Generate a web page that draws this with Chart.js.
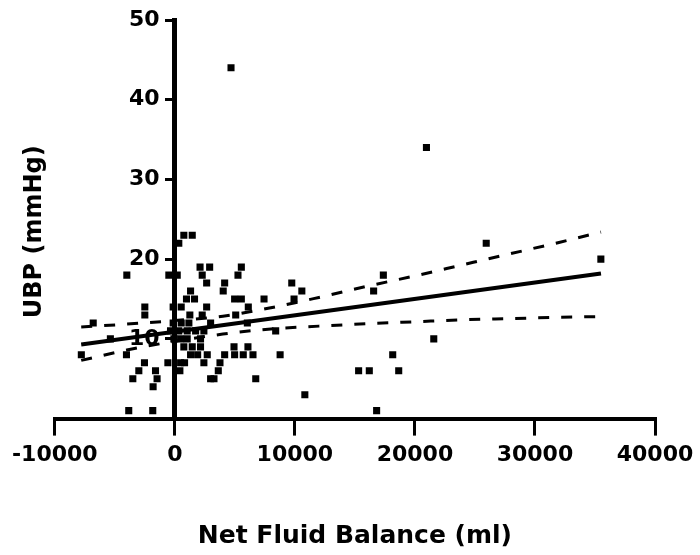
<!DOCTYPE html>
<html>
<head>
<meta charset="utf-8">
<script src="https://cdn.jsdelivr.net/npm/chart.js@4.4.1/dist/chart.umd.min.js"></script>
<style>
  html, body { margin: 0; padding: 0; background: #fff; }
  #wrap { width: 700px; height: 555px; }
</style>
</head>
<body>
<div id="wrap"><canvas id="canvas"></canvas></div>
<script>
// patients: net fluid balance (ml) vs UBP (mmHg)
const fluidX = [750, 1450, 330, -4000, -500, 200, 2100, 2900, 5540, 2280,
  5260, 2650, 4150, 4030, 1310, 970, 1640, 4980, 5540, 7430,
  -2500, -140, 530, 2650, 6120, -2500, 1250, 2280, 5070, -6800,
  -140, 530, 1170, 2980, 6040, -360, 330, 1030, 1730, 2420,
  8400, -5370, -80, 480, 1030, 2140, 750, 1450, 2140, 4930,
  6090, -7790, -4030, 1310, 1900, 2700, 4150, 4980, 5700, 6510,
  8770, -2530, -580, 480, 810, 2420, 3760, -3000, -1610, 420,
  3620, -3500, -1480, 2980, 3260, 6740, -1810, -3840, -1840, 9740,
  10580, 9930, 17370, 16560, 25940, 35490, 21570, 18150, 15310, 16200,
  18650, 10830, 16810, 4680, 20960];
const ubpY = [23, 23, 22, 18, 18, 18, 19, 19, 19, 18,
  18, 17, 17, 16, 16, 15, 15, 15, 15, 15,
  14, 14, 14, 14, 14, 13, 13, 13, 13, 12,
  12, 12, 12, 12, 12, 11, 11, 11, 11, 11,
  11, 10, 10, 10, 10, 10, 9, 9, 9, 9,
  9, 8, 8, 8, 8, 8, 8, 8, 8, 8,
  8, 7, 7, 7, 7, 7, 7, 6, 6, 6,
  6, 5, 5, 5, 5, 5, 4, 1, 1, 17,
  16, 15, 18, 16, 22, 20, 10, 8, 6, 6,
  6, 3, 1, 44, 34];

// linear fit and its 95% band
const fitX = [-7800, 35500];
const fitY = [9.3, 18.2];
const bandX = [-7800, -4000, 0, 4000, 8000, 12000, 16000, 20000, 24000, 28000, 32000, 35500];
const upperY = [11.5, 11.85, 12.3, 12.85, 13.9, 15.2, 16.6, 17.9, 19.3, 20.7, 22.1, 23.4];
const lowerY = [7.3, 8.6, 9.7, 10.6, 11.25, 11.6, 11.9, 12.15, 12.4, 12.55, 12.7, 12.8];

const xTicks = [-10000, 0, 10000, 20000, 30000, 40000];
const yTicks = [10, 20, 30, 40, 50];

function pairs(xs, ys) {
  return xs.map((x, i) => ({x: x, y: ys[i]}));
}

Chart.defaults.font.family = "'DejaVu Sans', sans-serif";
Chart.defaults.font.weight = 'bold';
Chart.defaults.color = '#000';

const ctx = document.getElementById("canvas").getContext("2d");
new Chart(ctx, {
  type: 'scatter',
  data: {
    datasets: [
      {
        data: pairs(fitX, fitY),
        showLine: true,
        borderColor: '#000',
        borderWidth: 4,
        pointRadius: 0,
        yAxisID: 'y'
      },
      {
        data: pairs(bandX, upperY),
        showLine: true,
        borderColor: '#000',
        borderWidth: 3,
        borderDash: [11, 12],
        cubicInterpolationMode: 'monotone',
        pointRadius: 0,
        yAxisID: 'y'
      },
      {
        data: pairs(bandX, lowerY),
        showLine: true,
        borderColor: '#000',
        borderWidth: 3,
        borderDash: [11, 12],
        cubicInterpolationMode: 'monotone',
        pointRadius: 0,
        yAxisID: 'y'
      },
      {
        data: pairs(fluidX, ubpY),
        pointStyle: 'rect',
        pointRadius: 5,
        backgroundColor: '#000',
        borderColor: '#000',
        borderWidth: 0,
        yAxisID: 'y'
      }
    ]
  },
  options: {
    responsive: true,
    maintainAspectRatio: false,
    animation: false,
    layout: { padding: { top: 20, right: 45, left: 0, bottom: 0 } },
    plugins: {
      legend: { display: false },
      tooltip: { enabled: false }
    },
    scales: {
      x: {
        type: 'linear',
        position: 'bottom',
        min: -10000,
        max: 40000,
        afterBuildTicks: s => { s.ticks = xTicks.map(v => ({value: v})); },
        grid: { display: true, drawOnChartArea: false, drawTicks: true, tickLength: 17, color: '#000', lineWidth: 3 },
        border: { display: true, color: '#000', width: 4 },
        ticks: { font: { size: 22, weight: 'bold' }, padding: 6, maxRotation: 0, callback: v => String(v) },
        title: { display: true, text: 'Net Fluid Balance (ml)', font: { size: 25, weight: 'bold' }, padding: { top: 47, bottom: 4 } }
      },
      y: {
        type: 'linear',
        position: { x: 0 },
        min: 0,
        max: 50,
        afterBuildTicks: s => { s.ticks = yTicks.map(v => ({value: v})); },
        grid: { display: true, drawOnChartArea: false, drawTicks: true, tickLength: 7, color: '#000', lineWidth: 3 },
        border: { display: true, color: '#000', width: 5 },
        // labels sit right-aligned on the axis, trailing spaces keep them clear of it
        ticks: { font: { size: 22, weight: 'bold' }, padding: 6, callback: v => v + '  ' },
        title: { display: false }
      },
      yTitle: {
        type: 'linear',
        position: 'left',
        min: 0,
        max: 50,
        grid: { display: false, drawTicks: false },
        border: { display: false },
        ticks: { display: false },
        title: { display: true, text: 'UBP (mmHg)   ', font: { size: 24, weight: 'bold' }, padding: { top: 20, bottom: 6 } }
      }
    }
  }
});
</script>
</body>
</html>
